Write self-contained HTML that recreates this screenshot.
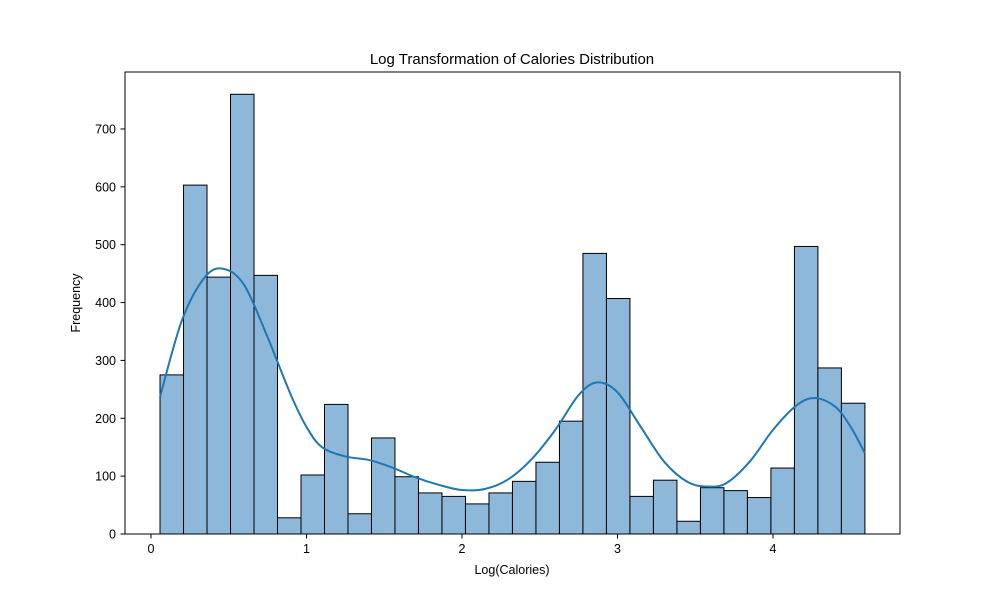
<!DOCTYPE html>
<html><head><meta charset="utf-8"><style>
body{margin:0;background:#fff;font-family:"Liberation Sans","DejaVu Sans",sans-serif;}
</style></head><body>
<svg id="chart" width="1000" height="600">
<rect width="1000" height="600" fill="#fff"/>
<text x="512" y="64" text-anchor="middle" font-size="15">Log Transformation of Calories Distribution</text>
<text x="512" y="574" text-anchor="middle" font-size="12.5">Log(Calories)</text>
<text x="80" y="303" text-anchor="middle" font-size="12.5" transform="rotate(-90 80 303)">Frequency</text>
<g id="bars"></g><g id="ticks"></g><path id="kde" fill="none" stroke="#1f77b4" stroke-width="2"/>
<rect x="125" y="72" width="775" height="462" fill="none" stroke="#000" stroke-width="1"/>
</svg>
<script>
const binStart = 0.058;
const binWidth = 0.1511;
const counts = [275,603,444,760,447,28,102,224,35,166,99,71,65,52,71,91,124,195,485,407,65,93,22,80,75,63,114,497,287,226];
const xTicks = [0,1,2,3,4];
const yTicks = [0,100,200,300,400,500,600,700];
const kdeX = [0.058,0.2,0.35,0.47,0.6,0.75,0.9,1.0,1.1,1.25,1.4,1.55,1.7,1.85,2.0,2.15,2.3,2.45,2.6,2.75,2.87,3.0,3.15,3.3,3.45,3.58,3.7,3.85,4.0,4.15,4.27,4.4,4.5,4.59];
const kdeY = [237,370,445,458,430,340,240,185,150,134,128,115,98,85,76,78,95,130,180,240,262,245,185,125,90,82,88,125,180,222,235,220,185,140];
const NS="http://www.w3.org/2000/svg";
const xs=v=>151+v*155.5, ys=v=>534-v*0.5786;
const bars=document.getElementById('bars'), ticks=document.getElementById('ticks');
counts.forEach((c,i)=>{const r=document.createElementNS(NS,'rect');
const x0=xs(binStart+i*binWidth), x1=xs(binStart+(i+1)*binWidth);
r.setAttribute('x',x0);r.setAttribute('y',ys(c));r.setAttribute('width',x1-x0);r.setAttribute('height',ys(0)-ys(c));
r.setAttribute('fill','#8db8da');r.setAttribute('stroke','#000');r.setAttribute('stroke-width','1');


bars.appendChild(r);});
xTicks.forEach(t=>{const l=document.createElementNS(NS,'line');l.setAttribute('x1',xs(t));l.setAttribute('x2',xs(t));l.setAttribute('y1',534);l.setAttribute('y2',538.5);l.setAttribute('stroke','#000');


ticks.appendChild(l);
const tx=document.createElementNS(NS,'text');tx.setAttribute('x',xs(t));tx.setAttribute('y',553);tx.setAttribute('text-anchor','middle');tx.setAttribute('font-size','12.5');tx.textContent=t;


ticks.appendChild(tx);});
yTicks.forEach(t=>{const l=document.createElementNS(NS,'line');l.setAttribute('x1',120.5);l.setAttribute('x2',125);l.setAttribute('y1',ys(t));l.setAttribute('y2',ys(t));l.setAttribute('stroke','#000');


ticks.appendChild(l);
const tx=document.createElementNS(NS,'text');tx.setAttribute('x',116);tx.setAttribute('y',ys(t)+4.5);tx.setAttribute('text-anchor','end');tx.setAttribute('font-size','12.5');tx.textContent=t;


ticks.appendChild(tx);});
const P=kdeX.map((x,i)=>[xs(x),ys(kdeY[i])]);
let d='M'+P[0][0]+','+P[0][1];
for(let i=0;i<P.length-1;i++){const p0=P[i-1]||P[i],p1=P[i],p2=P[i+1],p3=P[i+2]||p2;
d+=` C${p1[0]+(p2[0]-p0[0])/6},${p1[1]+(p2[1]-p0[1])/6} ${p2[0]-(p3[0]-p1[0])/6},${p2[1]-(p3[1]-p1[1])/6} ${p2[0]},${p2[1]}`;}
document.getElementById('kde').setAttribute('d',d);
</script>
</body></html>
